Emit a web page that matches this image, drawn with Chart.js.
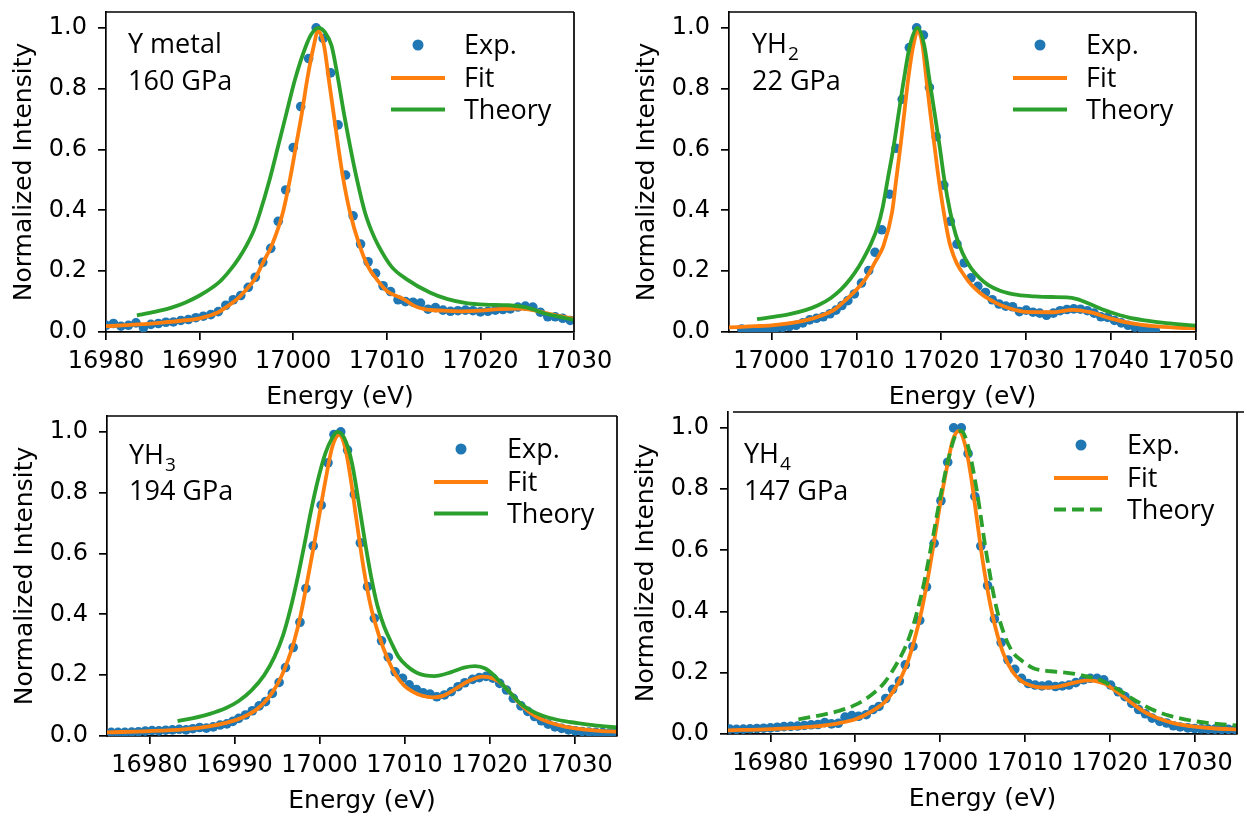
<!DOCTYPE html>
<html>
<head>
<meta charset="utf-8">
<script src="https://cdn.jsdelivr.net/npm/chart.js@4.4.1/dist/chart.umd.min.js"></script>
<style>
  html, body { margin: 0; padding: 0; background: #fff; }
  body { width: 1244px; height: 815px; position: relative; overflow: hidden; }
  canvas { position: absolute; }
</style>
</head>
<body>
<canvas id="c1"></canvas>
<canvas id="c2"></canvas>
<canvas id="c3"></canvas>
<canvas id="c4"></canvas>
<script>
// ---- data: [energy eV, normalized intensity] ----

const yTicks = [0, 0.2, 0.4, 0.6, 0.8, 1.0];
const xTicksA = [16980, 16990, 17000, 17010, 17020, 17030];
const xTicksB = [17000, 17010, 17020, 17030, 17040, 17050];

// Y metal, 160 GPa
const ymExp = [
  [16980.0, 0.022], [16980.8, 0.028], [16981.6, 0.019], [16982.4, 0.022], [16983.2, 0.030],
  [16984.0, 0.014], [16984.8, 0.025], [16985.6, 0.028], [16986.4, 0.032], [16987.2, 0.033],
  [16988.0, 0.038], [16988.8, 0.041], [16989.6, 0.047], [16990.4, 0.052], [16991.2, 0.057],
  [16992.0, 0.067], [16992.8, 0.088], [16993.6, 0.106], [16994.4, 0.120], [16995.2, 0.147],
  [16995.95, 0.180], [16996.75, 0.229], [16997.6, 0.275], [16998.4, 0.364], [16999.2, 0.467],
  [17000.0, 0.606], [17000.8, 0.741], [17001.65, 0.899], [17002.45, 1.0], [17003.2, 0.965],
  [17004.0, 0.852], [17004.8, 0.681], [17005.6, 0.516], [17006.4, 0.382], [17007.2, 0.289],
  [17008.0, 0.231], [17008.8, 0.193], [17009.6, 0.152], [17010.4, 0.133], [17011.2, 0.106],
  [17012.0, 0.100], [17012.8, 0.098], [17013.6, 0.095], [17014.4, 0.075], [17015.2, 0.080],
  [17016.0, 0.072], [17016.8, 0.068], [17017.6, 0.070], [17018.4, 0.072], [17019.2, 0.070],
  [17020.0, 0.066], [17020.8, 0.068], [17021.6, 0.072], [17022.4, 0.074], [17023.2, 0.076],
  [17024.0, 0.082], [17024.8, 0.085], [17025.6, 0.082], [17026.4, 0.065], [17027.2, 0.050],
  [17028.0, 0.050], [17028.8, 0.045], [17029.6, 0.038]
];
const ymFit = [
  [16980, 0.019], [16983, 0.024], [16986, 0.031], [16988, 0.037], [16990, 0.045],
  [16992, 0.065], [16993, 0.085], [16994, 0.108], [16995, 0.14], [16995.9, 0.174],
  [16996.8, 0.23], [16997.7, 0.284], [16998.9, 0.393], [16999.66, 0.503], [17000.3, 0.612],
  [17000.94, 0.722], [17001.5, 0.831], [17002.2, 0.941], [17002.65, 0.99], [17003.3, 0.941],
  [17003.8, 0.831], [17004.3, 0.722], [17004.8, 0.612], [17005.35, 0.503], [17006.07, 0.393],
  [17007.1, 0.284], [17008.0, 0.215], [17008.9, 0.174], [17010.0, 0.135], [17011.8, 0.108],
  [17013, 0.085], [17014, 0.075], [17016, 0.070], [17018, 0.068], [17020, 0.070],
  [17022, 0.075], [17024, 0.077], [17025.5, 0.073], [17027, 0.062], [17028.5, 0.052],
  [17030, 0.044]
];
const ymTheory = [
  [16983.3, 0.055], [16985, 0.065], [16987, 0.080], [16988.5, 0.097], [16990, 0.120],
  [16991.2, 0.143], [16992.3, 0.170], [16993.3, 0.205], [16994.2, 0.243], [16995.0, 0.284],
  [16995.8, 0.335], [16996.45, 0.393], [16997.5, 0.503], [16998.4, 0.612], [16999.3, 0.722],
  [17000.2, 0.831], [17001.37, 0.941], [17002.0, 0.982], [17002.7, 1.0], [17003.4, 0.985],
  [17004.1, 0.941], [17004.8, 0.831], [17005.4, 0.722], [17006.07, 0.612], [17006.8, 0.503],
  [17007.67, 0.393], [17008.4, 0.330], [17009.1, 0.284], [17010.5, 0.215], [17012.1, 0.174],
  [17014.6, 0.130], [17016.5, 0.108], [17018.5, 0.095], [17020.5, 0.090], [17023, 0.088],
  [17025, 0.080], [17027, 0.060], [17028.5, 0.050], [17030, 0.040]
];

// YH2, 22 GPa
const yh2Exp = [
  [16996.5, 0.010], [16997.3, 0.008], [16998.1, 0.006], [16998.9, 0.008], [16999.7, 0.010],
  [17000.5, 0.012], [17001.3, 0.015], [17002.1, 0.018], [17002.9, 0.022], [17003.7, 0.030],
  [17004.5, 0.040], [17005.3, 0.045], [17006.1, 0.050], [17006.9, 0.060], [17007.6, 0.072],
  [17008.3, 0.087], [17009.0, 0.103], [17009.76, 0.125], [17010.6, 0.161], [17011.45, 0.202],
  [17012.2, 0.262], [17013.0, 0.336], [17013.9, 0.453], [17014.67, 0.604], [17015.4, 0.765],
  [17016.24, 0.935], [17017.1, 1.0], [17017.9, 0.976], [17018.6, 0.804], [17019.4, 0.642],
  [17020.3, 0.483], [17021.06, 0.364], [17021.85, 0.289], [17022.7, 0.227], [17023.5, 0.178],
  [17024.3, 0.150], [17025.2, 0.130], [17026.0, 0.106], [17026.8, 0.092], [17027.6, 0.085],
  [17028.4, 0.083], [17029.2, 0.067], [17030.0, 0.072], [17030.8, 0.065], [17031.6, 0.062],
  [17032.4, 0.055], [17033.2, 0.062], [17034.0, 0.070], [17034.8, 0.074], [17035.6, 0.076],
  [17036.4, 0.075], [17037.2, 0.070], [17038.0, 0.062], [17038.8, 0.050], [17039.6, 0.048],
  [17040.4, 0.038], [17041.2, 0.030], [17042.0, 0.022], [17042.8, 0.016], [17043.6, 0.012],
  [17044.4, 0.008], [17045.2, 0.006]
];
const yh2Fit = [
  [16995, 0.015], [16998, 0.019], [17000, 0.022], [17002, 0.028], [17004, 0.038],
  [17006, 0.055], [17007.5, 0.075], [17008.3, 0.094], [17009.5, 0.125], [17011.06, 0.174],
  [17012.2, 0.230], [17013.2, 0.284], [17014.2, 0.393], [17014.7, 0.503], [17015.2, 0.612],
  [17015.65, 0.722], [17016.1, 0.831], [17016.7, 0.941], [17017.3, 0.99], [17017.8, 0.941],
  [17018.25, 0.831], [17018.7, 0.722], [17019.2, 0.612], [17019.7, 0.503], [17020.3, 0.393],
  [17021.06, 0.284], [17023.0, 0.174], [17024.5, 0.130], [17026.55, 0.094], [17028, 0.078],
  [17030, 0.066], [17033, 0.065], [17035.5, 0.073], [17037.5, 0.065], [17040, 0.044],
  [17042.5, 0.028], [17045, 0.019], [17048, 0.014], [17050, 0.012]
];
const yh2Theory = [
  [16998.3, 0.042], [17000, 0.049], [17002, 0.058], [17004, 0.072], [17005.5, 0.088],
  [17007, 0.112], [17008.2, 0.140], [17009.3, 0.175], [17010.3, 0.215], [17011.1, 0.255],
  [17011.8, 0.295], [17012.5, 0.345], [17013.1, 0.410], [17013.7, 0.503], [17014.4, 0.612],
  [17015.0, 0.722], [17015.6, 0.831], [17016.3, 0.941], [17017.2, 1.0], [17018.0, 0.941],
  [17018.6, 0.831], [17019.2, 0.722], [17019.8, 0.612], [17020.35, 0.503], [17021.06, 0.393],
  [17021.7, 0.320], [17022.5, 0.260], [17023.5, 0.210], [17024.5, 0.178], [17025.5, 0.155],
  [17027, 0.135], [17029, 0.122], [17031, 0.117], [17033, 0.115], [17034.8, 0.114],
  [17036, 0.108], [17037.5, 0.092], [17039, 0.074], [17040.5, 0.060], [17042, 0.048],
  [17044, 0.038], [17046.5, 0.029], [17050, 0.021]
];

// YH3, 194 GPa
const yh3Exp = [
  [16975.5, 0.012], [16976.3, 0.012], [16977.1, 0.012], [16977.9, 0.013], [16978.7, 0.014],
  [16979.5, 0.016], [16980.3, 0.018], [16981.1, 0.017], [16981.9, 0.019], [16982.7, 0.020],
  [16983.5, 0.022], [16984.3, 0.020], [16985.1, 0.024], [16985.9, 0.028], [16986.7, 0.026],
  [16987.5, 0.030], [16988.3, 0.036], [16989.1, 0.040], [16989.8, 0.048], [16990.5, 0.058],
  [16991.3, 0.069], [16992.1, 0.083], [16992.9, 0.099], [16993.65, 0.113], [16994.45, 0.140],
  [16995.25, 0.176], [16996.0, 0.225], [16996.9, 0.291], [16997.7, 0.374], [16998.4, 0.485],
  [16999.26, 0.625], [17000.2, 0.759], [17001.0, 0.898], [17001.7, 0.991], [17002.5, 1.0],
  [17003.3, 0.94], [17004.1, 0.794], [17004.8, 0.635], [17005.65, 0.491], [17006.45, 0.387],
  [17007.3, 0.313], [17008.1, 0.259], [17008.9, 0.211], [17009.76, 0.190], [17010.55, 0.168],
  [17011.4, 0.153], [17012.2, 0.142], [17013.0, 0.138], [17013.8, 0.129], [17014.7, 0.135],
  [17015.5, 0.146], [17016.3, 0.162], [17017.1, 0.175], [17018.0, 0.186], [17018.8, 0.192],
  [17019.6, 0.196], [17020.4, 0.190], [17021.2, 0.173], [17022.0, 0.151], [17022.8, 0.124],
  [17023.7, 0.099], [17024.5, 0.081], [17025.3, 0.064], [17026.1, 0.050], [17026.9, 0.039],
  [17027.7, 0.030], [17028.5, 0.025], [17029.3, 0.020], [17030.1, 0.017], [17030.9, 0.015],
  [17031.7, 0.013], [17032.5, 0.012], [17033.3, 0.011], [17034.1, 0.010], [17034.9, 0.010]
];
const yh3Fit = [
  [16975, 0.012], [16980, 0.016], [16984, 0.022], [16987, 0.032], [16989, 0.043],
  [16991, 0.062], [16992.5, 0.085], [16993.5, 0.110], [16994.5, 0.145], [16995.5, 0.195],
  [16996.3, 0.250], [16997.0, 0.310], [16997.8, 0.400], [16998.5, 0.500], [16999.3, 0.620],
  [17000.0, 0.730], [17000.7, 0.840], [17001.5, 0.950], [17002.3, 0.99], [17003.0, 0.950],
  [17003.7, 0.840], [17004.3, 0.720], [17005.2, 0.550], [17006.0, 0.430], [17007.0, 0.330],
  [17008.0, 0.255], [17009.0, 0.200], [17010.0, 0.165], [17011.0, 0.145], [17012.0, 0.133],
  [17013.3, 0.127], [17014.5, 0.132], [17016.0, 0.155], [17017.5, 0.180], [17019.2, 0.195],
  [17020.5, 0.188], [17021.5, 0.170], [17022.5, 0.140], [17023.5, 0.108], [17024.5, 0.083],
  [17025.5, 0.064], [17027.0, 0.045], [17029.0, 0.030], [17031.0, 0.022], [17033.0, 0.017],
  [17035.0, 0.014]
];
const yh3Theory = [
  [16983.3, 0.049], [16985, 0.058], [16987, 0.072], [16989, 0.092], [16990.5, 0.115],
  [16992, 0.150], [16993.5, 0.200], [16994.7, 0.260], [16995.7, 0.330], [16996.6, 0.420],
  [16997.5, 0.530], [16998.3, 0.640], [16999.0, 0.740], [16999.8, 0.840], [17000.7, 0.930],
  [17001.5, 0.980], [17002.1, 1.0], [17002.9, 0.980], [17003.8, 0.900], [17004.6, 0.770],
  [17005.4, 0.630], [17006.1, 0.520], [17006.8, 0.430], [17007.6, 0.360], [17008.4, 0.310],
  [17009.3, 0.260], [17010.3, 0.230], [17011.5, 0.207], [17013.5, 0.197], [17015.5, 0.210],
  [17017, 0.225], [17018.3, 0.230], [17019.5, 0.222], [17020.5, 0.200], [17021.5, 0.170],
  [17022.5, 0.140], [17023.5, 0.110], [17024.5, 0.090], [17025.5, 0.075], [17027, 0.060],
  [17029, 0.048], [17031, 0.040], [17033, 0.033], [17035, 0.028]
];

// YH4, 147 GPa
const yh4Exp = [
  [16975.2, 0.016], [16976.0, 0.015], [16976.8, 0.016], [16977.6, 0.017], [16978.4, 0.018],
  [16979.2, 0.019], [16980.0, 0.020], [16980.8, 0.022], [16981.6, 0.024], [16982.4, 0.025],
  [16983.2, 0.026], [16984.0, 0.028], [16984.8, 0.030], [16985.6, 0.031], [16986.4, 0.037],
  [16987.2, 0.033], [16988.0, 0.035], [16988.8, 0.055], [16989.6, 0.060], [16990.4, 0.058],
  [16991.3, 0.063], [16992.1, 0.080], [16992.8, 0.090], [16993.6, 0.116], [16994.4, 0.146],
  [16995.2, 0.173], [16995.9, 0.226], [16996.8, 0.286], [16997.6, 0.371], [16998.4, 0.481],
  [16999.3, 0.623], [17000.1, 0.762], [17000.9, 0.888], [17001.6, 1.0], [17002.5, 1.0],
  [17003.3, 0.916], [17004.1, 0.776], [17004.8, 0.614], [17005.6, 0.485], [17006.4, 0.376],
  [17007.2, 0.299], [17008.0, 0.242], [17008.8, 0.211], [17009.6, 0.182], [17010.4, 0.165],
  [17011.2, 0.160], [17012.0, 0.157], [17012.8, 0.160], [17013.6, 0.155], [17014.4, 0.157],
  [17015.2, 0.160], [17016.0, 0.168], [17016.9, 0.177], [17017.7, 0.182], [17018.5, 0.182],
  [17019.3, 0.177], [17020.1, 0.160], [17021.0, 0.138], [17021.8, 0.122], [17022.6, 0.100],
  [17023.4, 0.080], [17024.2, 0.066], [17025.0, 0.052], [17025.9, 0.041], [17026.7, 0.036],
  [17027.5, 0.027], [17028.3, 0.023], [17029.2, 0.020], [17030.0, 0.018], [17030.8, 0.017],
  [17031.6, 0.016], [17032.4, 0.016], [17033.2, 0.015], [17034.0, 0.015], [17034.8, 0.015]
];
const yh4Fit = [
  [16975, 0.012], [16980, 0.016], [16985, 0.024], [16988, 0.035], [16990, 0.048],
  [16992, 0.075], [16993.5, 0.105], [16994.5, 0.140], [16995.5, 0.190], [16996.3, 0.245],
  [16997.0, 0.310], [16997.8, 0.400], [16998.5, 0.500], [16999.3, 0.630], [17000.0, 0.750],
  [17000.8, 0.870], [17001.5, 0.960], [17002.2, 0.99], [17002.9, 0.950], [17003.6, 0.850],
  [17004.3, 0.710], [17005.0, 0.570], [17005.8, 0.440], [17006.6, 0.340], [17007.5, 0.260],
  [17008.5, 0.205], [17009.5, 0.175], [17010.5, 0.160], [17012.0, 0.152], [17013.5, 0.153],
  [17015.0, 0.162], [17016.5, 0.172], [17017.5, 0.175], [17018.5, 0.172], [17019.5, 0.163],
  [17020.5, 0.145], [17021.5, 0.125], [17022.5, 0.103], [17023.5, 0.083], [17024.5, 0.066],
  [17026.0, 0.048], [17028.0, 0.032], [17030.0, 0.024], [17032.5, 0.018], [17035.0, 0.015]
];
const yh4Theory = [
  [16983.3, 0.048], [16986, 0.062], [16988, 0.075], [16990, 0.095], [16992, 0.130],
  [16993.5, 0.170], [16995, 0.235], [16996, 0.290], [16997, 0.370], [16998, 0.480],
  [16999, 0.620], [17000, 0.770], [17001, 0.900], [17002, 0.985], [17002.5, 0.99],
  [17003.3, 0.940], [17004.3, 0.800], [17005.4, 0.600], [17006.5, 0.430], [17007.5, 0.330],
  [17008.5, 0.270], [17009.6, 0.240], [17011, 0.215], [17013, 0.205], [17015, 0.200],
  [17017, 0.190], [17019, 0.175], [17021, 0.145], [17023, 0.110], [17025, 0.080],
  [17027, 0.060], [17030, 0.042], [17033, 0.032], [17035, 0.028]
];

// ---- drawing ----

const blue = '#1f77b4', orange = '#ff7f0e', green = '#2ca02c';
const tickFont = { family: 'DejaVu Sans', size: 24 };
const titleFont = { family: 'DejaVu Sans', size: 25 };
const textFamily = '"Open Sans", sans-serif';

const pts = arr => arr.map(p => ({ x: p[0], y: p[1] }));

// top/right spines, panel label and legend
const overlay = {
  id: 'overlay',
  afterDraw(chart, args, o) {
    const { ctx, chartArea: a } = chart;
    ctx.save();
    ctx.strokeStyle = '#000';
    ctx.lineWidth = 1.7;
    ctx.beginPath();
    ctx.moveTo(a.left + (o.topInset || 0), a.top);
    ctx.lineTo(a.right + (o.topExtend || 0), a.top);
    ctx.moveTo(a.right, a.top);
    ctx.lineTo(a.right, a.bottom);
    ctx.stroke();

    // sample label
    ctx.fillStyle = '#000';
    ctx.textBaseline = 'alphabetic';
    ctx.font = '27px ' + textFamily;
    const lx = a.left + o.labelX, ly = a.top + o.labelY;
    ctx.fillText(o.name, lx, ly);
    if (o.sub) {
      const w = ctx.measureText(o.name).width;
      ctx.font = '19px ' + textFamily;
      ctx.fillText(o.sub, lx + w + 1, ly + 7);
      ctx.font = '27px ' + textFamily;
    }
    ctx.fillText(o.pressure, lx, ly + 36.5);

    // legend
    const mx = a.right - 156, tx = a.right - 110;
    const rows = [a.top + 33, a.top + 66, a.top + 97.5];
    ctx.fillStyle = blue;
    ctx.beginPath();
    ctx.arc(mx, rows[0], 5.5, 0, Math.PI * 2);
    ctx.fill();
    ctx.lineWidth = 3.8;
    ctx.strokeStyle = orange;
    ctx.beginPath();
    ctx.moveTo(a.right - 183, rows[1]);
    ctx.lineTo(a.right - 129, rows[1]);
    ctx.stroke();
    ctx.strokeStyle = green;
    if (o.dashed) ctx.setLineDash([12, 6]);
    ctx.beginPath();
    ctx.moveTo(a.right - 183, rows[2]);
    ctx.lineTo(a.right - 129, rows[2]);
    ctx.stroke();
    ctx.setLineDash([]);
    ctx.fillStyle = '#000';
    ctx.font = '27px ' + textFamily;
    ['Exp.', 'Fit', 'Theory'].forEach((t, i) => ctx.fillText(t, tx, rows[i] + 9));
    ctx.restore();
  }
};

function panel(id, plot, xMin, xMax, xTicks, exp, fit, theory, o) {
  const [l, t, r, b] = plot;
  const cv = document.getElementById(id);
  const W = (r + 50) - (l - 110), H = (b + 80) - (t - 20);
  cv.width = W; cv.height = H;
  cv.style.left = (l - 110) + 'px';
  cv.style.top = (t - 20) + 'px';
  cv.style.width = W + 'px';
  cv.style.height = H + 'px';

  const zeroPad = s => { s.paddingTop = s.paddingBottom = s.paddingLeft = s.paddingRight = 0; };

  new Chart(cv, {
    type: 'line',
    data: {
      datasets: [
        { label: 'Exp.', data: pts(exp), showLine: false, pointRadius: 4.8, pointHoverRadius: 4.8,
          pointBackgroundColor: blue, pointBorderWidth: 0, borderColor: blue, order: 3 },
        { label: 'Fit', data: pts(fit), borderColor: orange, borderWidth: 3.8, pointRadius: 0,
          cubicInterpolationMode: 'monotone', fill: false, order: 2 },
        { label: 'Theory', data: pts(theory), borderColor: green, borderWidth: 3.8, pointRadius: 0,
          borderDash: o.dashed ? [12, 6] : [], cubicInterpolationMode: 'monotone', fill: false, order: 1 }
      ]
    },
    options: {
      responsive: false,
      animation: false,
      devicePixelRatio: 1,
      layout: { padding: { left: 0, top: 20, right: 50, bottom: 0 } },
      plugins: { legend: { display: false }, tooltip: { enabled: false }, overlay: o },
      scales: {
        x: {
          type: 'linear', min: xMin, max: xMax,
          afterBuildTicks: s => { s.ticks = xTicks.map(v => ({ value: v })); },
          afterFit: s => { s.height = 80; zeroPad(s); },
          grid: { drawOnChartArea: false, drawTicks: true, tickLength: 8, color: '#000', lineWidth: 1.7 },
          border: { display: true, color: '#000', width: 1.7 },
          ticks: { font: tickFont, color: '#000', padding: 7, maxRotation: 0, autoSkip: false,
                   callback: v => String(v) },
          title: { display: true, text: 'Energy (eV)', font: titleFont, color: '#000',
                   padding: { top: 0, bottom: 0 } }
        },
        y: {
          type: 'linear', min: 0, max: 1.052,
          afterBuildTicks: s => { s.ticks = yTicks.map(v => ({ value: v })); },
          afterFit: s => { s.width = 110; zeroPad(s); },
          grid: { drawOnChartArea: false, drawTicks: true, tickLength: 8, color: '#000', lineWidth: 1.7 },
          border: { display: true, color: '#000', width: 1.7 },
          ticks: { font: tickFont, color: '#000', padding: 11, callback: v => v.toFixed(1) },
          title: { display: true, text: 'Normalized Intensity', font: titleFont, color: '#000',
                   padding: { top: 13, bottom: 0 } }
        }
      }
    },
    plugins: [overlay]
  });
}

panel('c1', [106, 12, 574, 332], 16980, 17030, xTicksA, ymExp, ymFit, ymTheory,
  { name: 'Y metal', pressure: '160 GPa', labelX: 22, labelY: 41 });
panel('c2', [729, 12, 1196, 332], 16995, 17050, xTicksB, yh2Exp, yh2Fit, yh2Theory,
  { name: 'YH', sub: '2', pressure: '22 GPa', labelX: 23, labelY: 41 });
panel('c3', [107, 416, 617, 736], 16975, 17035, xTicksA, yh3Exp, yh3Fit, yh3Theory,
  { name: 'YH', sub: '3', pressure: '194 GPa', labelX: 22, labelY: 47.5 });
panel('c4', [728, 412, 1237, 734], 16975, 17035, xTicksA, yh4Exp, yh4Fit, yh4Theory,
  { name: 'YH', sub: '4', pressure: '147 GPa', labelX: 16, labelY: 51, dashed: true,
    topInset: 5, topExtend: 7 });
</script>
</body>
</html>
